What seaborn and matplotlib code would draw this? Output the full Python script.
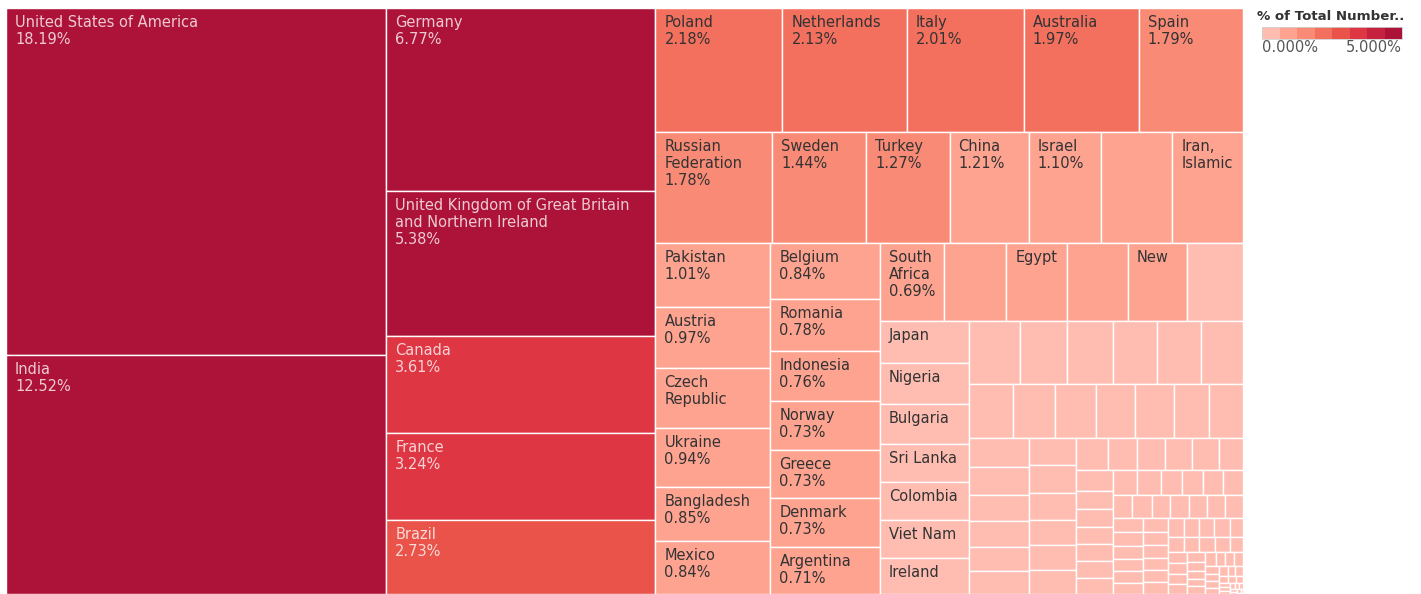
import matplotlib
matplotlib.use("Agg")
import matplotlib.pyplot as plt
from matplotlib.patches import Rectangle
from matplotlib.font_manager import FontProperties
import seaborn as sns

sns.set_style("white")
plt.rcParams['font.family'] = ['DejaVu Sans']

# share of respondents per country (%), largest first
COUNTRIES = [
    "United States of America", "India", "Germany",
    "United Kingdom of Great Britain and Northern Ireland", "Canada", "France", "Brazil",
    "Poland", "Netherlands", "Italy", "Australia", "Spain",
    "Russian Federation", "Sweden", "Turkey", "China", "Israel", "Switzerland",
    "Iran, Islamic Republic of...",
    "Pakistan", "Austria", "Czech Republic", "Ukraine", "Bangladesh", "Mexico",
    "Belgium", "Romania", "Indonesia", "Norway", "Greece", "Denmark", "Argentina",
    "South Africa", "Portugal", "Egypt", "Finland", "New Zealand", "Hungary",
    "Japan", "Nigeria", "Bulgaria", "Sri Lanka", "Colombia", "Viet Nam", "Ireland",
    "Philippines", "Serbia", "Singapore", "Malaysia", "Lithuania", "Slovakia",
    "Croatia", "Slovenia", "Kenya", "Hong Kong (S.A.R.)", "Taiwan", "Morocco", "Estonia",
    "Republic of Korea", "Uruguay", "Thailand", "Tunisia", "Belarus", "Kazakhstan",
    "Chile", "Peru", "Nepal", "Armenia", "Latvia", "Ethiopia", "Bosnia and Herzegovina",
    "Ghana", "Saudi Arabia", "United Arab Emirates", "Algeria", "Costa Rica", "Ecuador",
    "Venezuela", "Jordan", "Lebanon", "Cyprus", "Georgia", "Albania", "Uganda",
    "Dominican Republic",
    "Guatemala", "Luxembourg", "Myanmar", "Azerbaijan", "Cameroon",
    "Republic of Moldova", "Iceland",
    "Syrian Arab Republic", "El Salvador", "Malta", "Bolivia", "Uzbekistan",
    "Afghanistan", "Montenegro",
    "Paraguay", "Rwanda", "Zimbabwe", "Cuba", "Honduras", "Kosovo",
    "Qatar", "Cambodia", "Mauritius", "Panama", "Nicaragua", "Iraq", "Kuwait",
    "Yemen", "United Republic of Tanzania", "Kyrgyzstan", "Zambia", "Jamaica",
    "Oman", "Bahrain", "Sudan", "Palestine", "Senegal", "Trinidad and Tobago",
    "Mongolia", "Malawi", "Mozambique", "Madagascar", "Benin", "Namibia", "Botswana",
    "Tajikistan", "Libyan Arab Jamahiriya", "Côte d'Ivoire", "Barbados", "Maldives",
    "Bhutan", "Somalia", "Togo", "Haiti", "Turkmenistan", "Brunei Darussalam", "Fiji",
    "Andorra", "Burkina Faso", "Mali", "Guyana", "Bahamas", "Lesotho", "Monaco",
    "Liechtenstein", "Niger", "Suriname",
]
SHARES = [
    18.19, 12.52, 6.77,
    5.38, 3.61, 3.24, 2.73,
    2.18, 2.13, 2.01, 1.97, 1.79,
    1.78, 1.44, 1.27, 1.21, 1.10, 1.09,
    1.08,
    1.01, 0.97, 0.95, 0.94, 0.85, 0.84,
    0.84, 0.78, 0.76, 0.73, 0.73, 0.73, 0.71,
    0.69, 0.66, 0.65, 0.64, 0.63, 0.60,
    0.53, 0.50, 0.49, 0.48, 0.47, 0.46, 0.45,
    0.44, 0.42, 0.40, 0.39, 0.38, 0.37,
    0.32, 0.31, 0.30, 0.29, 0.28, 0.26, 0.25,
    0.24, 0.23, 0.22, 0.21, 0.20, 0.19,
    0.18, 0.18, 0.17, 0.165, 0.16, 0.155, 0.145,
    0.13, 0.125, 0.12, 0.12, 0.11, 0.105,
    0.092, 0.09, 0.088, 0.086, 0.084, 0.082, 0.081,
    0.08,
    0.072, 0.07, 0.068, 0.066, 0.064,
    0.063, 0.061,
    0.06, 0.06, 0.059, 0.059, 0.058,
    0.057, 0.057,
    0.05, 0.048, 0.047, 0.046, 0.045, 0.045,
    0.042, 0.041, 0.04, 0.04, 0.04, 0.039, 0.039,
    0.034, 0.034, 0.034, 0.033, 0.033,
    0.028, 0.027, 0.027, 0.026, 0.026, 0.026,
    0.021, 0.021, 0.02, 0.02, 0.019, 0.018, 0.017,
    0.016, 0.015, 0.014, 0.013, 0.012,
    0.011, 0.010, 0.010, 0.009, 0.008, 0.007, 0.006,
    0.005, 0.005, 0.004, 0.004, 0.003, 0.003, 0.002,
    0.002, 0.001, 0.001,
]

LEGEND_TITLE = "% of Total Number.."
LEGEND_TICKS = ["0.000%", "5.000%"]
LEGEND_MAX = 5.0
# tableau "Red" stepped palette, 8 steps
PALETTE = sns.color_palette(["#ffbdb1", "#fda390", "#f98b76", "#f3705f",
                             "#e9534a", "#de3643", "#c6223f", "#ad1238"])


def tableau_treemap(values, x, y, w, h, k=1.316, target=1.6):
    # strip layout roughly like tableau: strips across the (stretched) short side,
    # keep adding cells while the worst cell gets closer to the target shape
    vals = list(values)
    scale = w * h / sum(vals)
    out = []
    i, n = 0, len(vals)
    while i < n:
        vertical = (w / k) > h
        length = h if vertical else w

        def badness(j):
            thick = sum(vals[i:j]) * scale / length
            worst = 0
            for v in vals[i:j]:
                l = v * scale / thick
                r = (thick / k) / l if vertical else thick * k / l
                worst = max(worst, r / target, target / r)
            return worst

        j = i + 1
        best = badness(j)
        while j < n:
            b = badness(j + 1)
            if b > best:
                break
            best = b
            j += 1
        thick = sum(vals[i:j]) * scale / length
        pos = y if vertical else x
        for v in vals[i:j]:
            l = v * scale / thick
            out.append((x, pos, thick, l) if vertical else (pos, y, l, thick))
            pos += l
        if vertical:
            x += thick
            w -= thick
        else:
            y += thick
            h -= thick
        i = j
    return out


fig = plt.figure(figsize=(14.21, 5.94), dpi=100)
ax = fig.add_axes([0, 0, 1, 1])
ax.set_xlim(0, 1421)
ax.set_ylim(594, 0)
ax.axis("off")

renderer = fig.canvas.get_renderer()
fp = FontProperties(family="DejaVu Sans", size=10.5)


def text_w(s):
    return renderer.get_text_width_height_descent(s, fp, ismath=False)[0]


step = LEGEND_MAX / len(PALETTE)
cells = tableau_treemap(SHARES, 6, 8, 1237, 586)

for name, val, (cx, cy, cw, ch) in zip(COUNTRIES, SHARES, cells):
    idx = min(int(val / step), len(PALETTE) - 1)
    ax.add_patch(Rectangle((cx, cy), cw, ch, facecolor=PALETTE[idx],
                           edgecolor="white", linewidth=1.0))

    # wrap the name, then the value; show lines until one does not fit
    avail = cw - 17
    lines, cur = [], None
    for word in name.split(" "):
        if cur is None:
            cur = word
        elif text_w(cur + " " + word) <= avail:
            cur += " " + word
        else:
            lines.append(cur)
            cur = word
    lines.append(cur)
    lines.append(f"{val:.2f}%")

    tcolor = (1, 1, 1, 0.78) if idx >= 4 else "#333333"
    for li, line in enumerate(lines):
        base = 19 + 17 * li
        if text_w(line) > avail or base + 9.5 > ch:
            break
        ax.text(cx + 9, cy + base, line, fontproperties=fp, color=tcolor,
                ha="left", va="baseline")

# legend
ax.text(1257, 16, LEGEND_TITLE, fontsize=9.6, fontweight="bold", color="#333333",
        ha="left", va="center")
bar_x, bar_y, bar_w, bar_h = 1262, 27, 140, 12
for i, c in enumerate(PALETTE):
    ax.add_patch(Rectangle((bar_x + i * bar_w / len(PALETTE), bar_y),
                           bar_w / len(PALETTE), bar_h, facecolor=c, edgecolor="none"))
ax.add_patch(Rectangle((bar_x, bar_y), bar_w, bar_h, fill=False,
                       edgecolor="#cfcfcf", linewidth=0.6))
ax.text(bar_x, 48, LEGEND_TICKS[0], fontsize=10.5, color="#555555", ha="left", va="center")
ax.text(bar_x + bar_w, 48, LEGEND_TICKS[1], fontsize=10.5, color="#555555",
        ha="right", va="center")

fig.savefig("out.png", dpi=100, facecolor="white")
